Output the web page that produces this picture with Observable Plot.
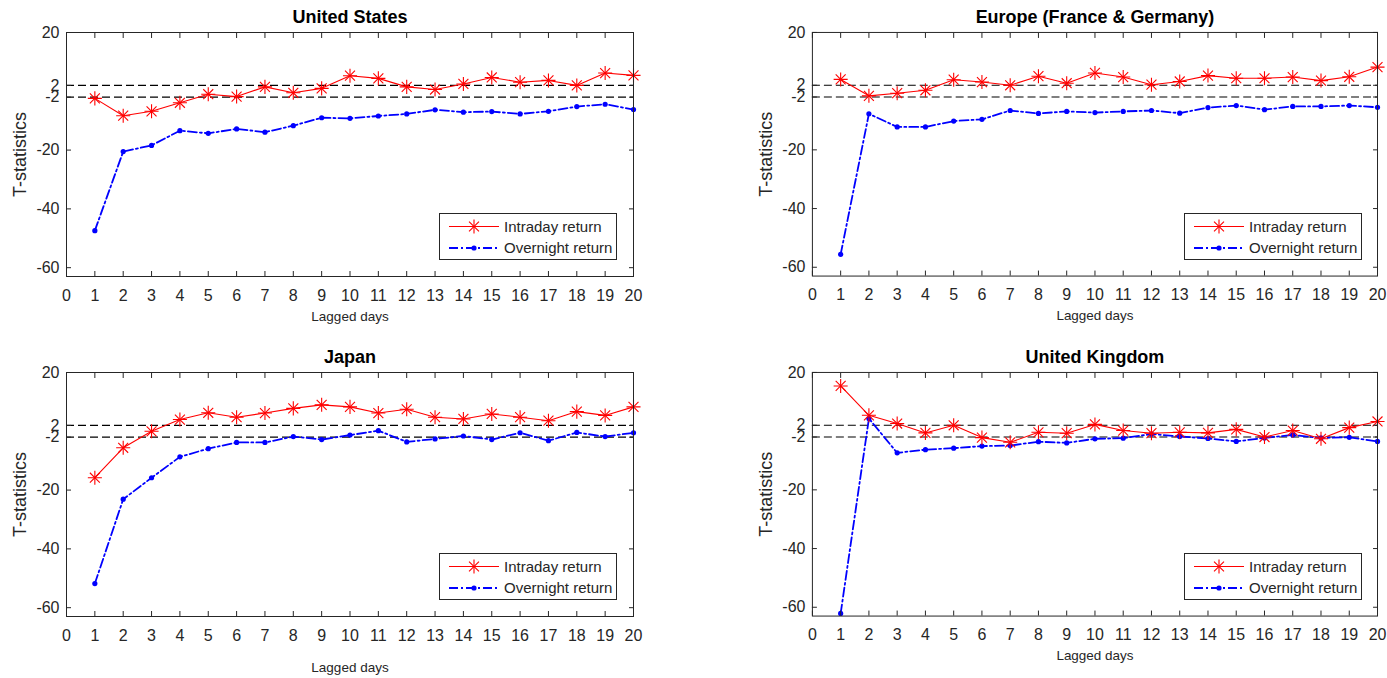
<!DOCTYPE html>
<html>
<head>
<meta charset="utf-8">
<script src="https://cdn.jsdelivr.net/npm/d3@7"></script>
<script src="https://cdn.jsdelivr.net/npm/@observablehq/plot@0.6"></script>
<style>
  html, body { margin: 0; padding: 0; background: #fff; }
  #root { position: relative; width: 1387px; height: 678px; font-family: "Liberation Sans", Arial, sans-serif; }
  .panel { position: absolute; }
  .legend { position: absolute; box-sizing: border-box; border: 1px solid #262626; background: #fff; width: 178px; height: 47px; }
  .legend svg { position: absolute; left: 0; top: 0; }
</style>
</head>
<body>
<div id="root"></div>
<script>
// ---- data ----
const lags = [1,2,3,4,5,6,7,8,9,10,11,12,13,14,15,16,17,18,19,20];
const xTicks = [0,1,2,3,4,5,6,7,8,9,10,11,12,13,14,15,16,17,18,19,20];
const yTicks = [-60,-40,-20,-2,2,20];
const criticalValues = [2,-2];
const titles = ["United States","Europe (France & Germany)","Japan","United Kingdom"];
const seriesNames = ["Intraday return","Overnight return"];

const usIntraday = [-2.4,-8.3,-6.8,-3.9,-1.0,-1.8,1.5,-0.5,1.0,5.3,4.4,1.5,0.6,2.5,4.7,3.1,3.7,2.0,6.2,5.4];
const usOvernight = [-47.4,-20.5,-18.4,-13.4,-14.3,-12.8,-13.9,-11.7,-9.0,-9.2,-8.4,-7.7,-6.3,-7.1,-6.9,-7.7,-6.8,-5.2,-4.4,-6.2];
const euIntraday = [4.0,-1.6,-0.7,0.3,3.9,3.1,2.0,5.1,2.7,6.2,4.8,2.2,3.3,5.3,4.4,4.4,4.8,3.6,4.9,8.2];
const euOvernight = [-55.6,-7.7,-12.2,-12.2,-10.2,-9.6,-6.6,-7.6,-6.9,-7.3,-6.9,-6.6,-7.5,-5.6,-4.9,-6.3,-5.2,-5.2,-4.9,-5.5];
const jpIntraday = [-15.8,-5.6,0.0,4.0,6.3,4.8,6.2,7.8,9.0,8.3,6.2,7.5,4.8,4.2,5.9,4.8,3.6,6.7,5.4,8.3];
const jpOvernight = [-51.8,-23.1,-15.8,-8.7,-5.9,-3.8,-3.8,-1.8,-2.8,-1.3,0.2,-3.6,-2.6,-1.6,-2.8,-0.5,-3.2,-0.4,-1.8,-0.5];
const ukIntraday = [15.4,5.4,2.6,-0.6,2.0,-2.2,-3.8,-0.4,-0.7,2.3,0.2,-0.7,-0.4,-0.6,0.6,-2.0,0.2,-2.6,1.2,3.3];
const ukOvernight = [-62.1,4.3,-7.4,-6.3,-5.8,-5.1,-4.9,-3.6,-4.0,-2.6,-2.4,-1.0,-1.8,-2.5,-3.5,-2.3,-1.3,-2.3,-2.1,-3.5];

const panelsData = [
  {title: titles[0], intraday: usIntraday, overnight: usOvernight},
  {title: titles[1], intraday: euIntraday, overnight: euOvernight},
  {title: titles[2], intraday: jpIntraday, overnight: jpOvernight},
  {title: titles[3], intraday: ukIntraday, overnight: ukOvernight}
];

// ---- layout ----
const frames = [
  {left: 66, top: 32, w: 567, h: 244, xlabDy: 40},
  {left: 812, top: 32, w: 566, h: 244, xlabDy: 40},
  {left: 66, top: 372, w: 567, h: 244, xlabDy: 51},
  {left: 812, top: 372, w: 566, h: 244, xlabDy: 40}
];
const ML = 66, MT = 32, MR = 10, MB = 62;
const INK = "#262626";
const STAR_R = 4.6;
const root = document.getElementById("root");

panelsData.forEach((p, i) => {
  const f = frames[i];
  const rows = lags.map((lag, j) => ({lag, intraday: p.intraday[j], overnight: p.overnight[j]}));
  const chart = Plot.plot({
    width: ML + f.w + MR,
    height: MT + f.h + MB,
    marginLeft: ML, marginTop: MT, marginRight: MR, marginBottom: MB,
    style: {fontFamily: '"Liberation Sans", Arial, sans-serif', fontSize: "16px", background: "transparent", overflow: "visible"},
    x: {domain: [0, 20]},
    y: {domain: [-63, 20]},
    marks: [
      Plot.ruleY(criticalValues, {stroke: "#000", strokeWidth: 1.1, strokeDasharray: "8,4"}),
      Plot.line(rows, {x: "lag", y: "overnight", stroke: "#0000ff", strokeWidth: 1.8, strokeDasharray: "9,3,2,3"}),
      Plot.dot(rows, {x: "lag", y: "overnight", fill: "#0000ff", r: 2.6}),
      Plot.line(rows, {x: "lag", y: "intraday", stroke: "#ff0000", strokeWidth: 1.1}),
      Plot.dot(rows, {x: "lag", y: "intraday", symbol: "plus", r: STAR_R, stroke: "#ff0000", strokeWidth: 1.1}),
      Plot.dot(rows, {x: "lag", y: "intraday", symbol: "times", r: STAR_R, stroke: "#ff0000", strokeWidth: 1.1}),
      Plot.frame({stroke: INK, strokeWidth: 1}),
      Plot.axisX(xTicks, {anchor: "bottom", tickSize: 0, tickPadding: 13, label: null, color: INK, fontSize: 16}),
      Plot.axisX(xTicks, {anchor: "bottom", tickSize: -5, tickFormat: () => "", label: null, color: INK}),
      Plot.axisX(xTicks, {anchor: "top", tickSize: -5, tickFormat: () => "", label: null, color: INK}),
      Plot.axisY(yTicks, {anchor: "left", tickSize: 0, tickPadding: 7, label: null, color: INK, fontSize: 16, tickFormat: d => String(d)}),
      Plot.axisY(yTicks, {anchor: "left", tickSize: -5, tickFormat: () => "", label: null, color: INK}),
      Plot.axisY(yTicks, {anchor: "right", tickSize: -5, tickFormat: () => "", label: null, color: INK}),
      Plot.text([p.title], {text: d => d, frameAnchor: "top", lineAnchor: "middle", dy: -15, fontWeight: "bold", fontSize: 18, fill: "#000"}),
      Plot.text(["Lagged days"], {text: d => d, frameAnchor: "bottom", lineAnchor: "middle", dy: f.xlabDy, fontSize: 13.5, fill: INK}),
      Plot.text(["T-statistics"], {text: d => d, frameAnchor: "left", textAnchor: "middle", lineAnchor: "middle", dx: -46, rotate: -90, fontSize: 18, fill: INK})
    ]
  });
  const wrap = document.createElement("div");
  wrap.className = "panel";
  wrap.style.left = (f.left - ML) + "px";
  wrap.style.top = (f.top - MT) + "px";
  wrap.appendChild(chart);
  root.appendChild(wrap);

  // legend box (decoration)
  const lg = document.createElement("div");
  lg.className = "legend";
  lg.style.left = (f.left + f.w - 16 - 178) + "px";
  lg.style.top = (f.top + 181) + "px";
  const svg = d3.create("svg").attr("width", 176).attr("height", 45)
    .style("font-family", '"Liberation Sans", Arial, sans-serif').style("font-size", "15px");
  const entries = [
    {name: seriesNames[0], cy: 12.5, stroke: "#ff0000", dash: null, sw: 1.1},
    {name: seriesNames[1], cy: 34, stroke: "#0000ff", dash: "9,3,2,3", sw: 1.8}
  ];
  entries.forEach((e, k) => {
    svg.append("line").attr("x1", 9).attr("x2", 59).attr("y1", e.cy).attr("y2", e.cy)
      .attr("stroke", e.stroke).attr("stroke-width", e.sw).attr("stroke-dasharray", e.dash);
    if (k === 0) {
      svg.append("path").attr("transform", `translate(34,${e.cy})`)
        .attr("d", d3.symbol(d3.symbolPlus, Math.PI * STAR_R * STAR_R)())
        .attr("stroke", e.stroke).attr("stroke-width", 1.1).attr("fill", "none");
      svg.append("path").attr("transform", `translate(34,${e.cy})`)
        .attr("d", d3.symbol(d3.symbolTimes, Math.PI * STAR_R * STAR_R)())
        .attr("stroke", e.stroke).attr("stroke-width", 1.1).attr("fill", "none");
    } else {
      svg.append("circle").attr("cx", 34).attr("cy", e.cy).attr("r", 2.6).attr("fill", e.stroke);
    }
    svg.append("text").attr("x", 64).attr("y", e.cy).attr("dy", "0.35em").attr("fill", INK).text(e.name);
  });
  lg.appendChild(svg.node());
  root.appendChild(lg);
});
</script>
</body>
</html>
